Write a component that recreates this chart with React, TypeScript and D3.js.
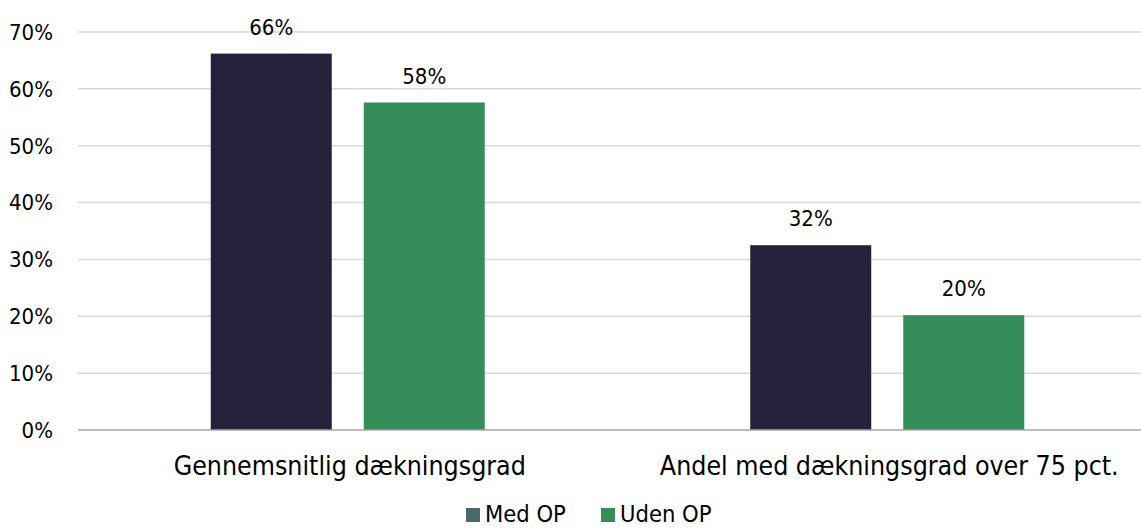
import React from "react";
import * as d3 from "d3";

const categories = ["Gennemsnitlig dækningsgrad", "Andel med dækningsgrad over 75 pct."];
const seriesNames = ["Med OP", "Uden OP"];
const medOP = [66.2, 32.5];
const udenOP = [57.6, 20.2];
const valueLabels = [["66%", "32%"], ["58%", "20%"]];
const yTicks = [0, 10, 20, 30, 40, 50, 60, 70];

const W = 1141, H = 528;
const m = { left: 78, right: -16, top: 32, bottom: 98 };
const barColors = ["#23223a", "#358d5a"];
const legendColors = ["#4a6a6a", "#358d5a"];
const font = "'DejaVu Sans Condensed', 'DejaVu Sans', sans-serif";

export default function App() {
  const x = d3.scaleBand<string>().domain(categories).range([m.left, W - m.right]);
  const y = d3.scaleLinear().domain([0, 70]).range([H - m.bottom, m.top]);
  const barW = 121, gap = 32;
  const series = [medOP, udenOP];
  return (
    <svg width={W} height={H} style={{ position: "absolute", left: 0, top: 0 }}>
      <rect width={W} height={H} fill="#fff" />
      {yTicks.map((t) => (
        <g key={t}>
          {t > 0 && <line x1={m.left} x2={W} y1={y(t)} y2={y(t)} stroke="#d9d9d9" strokeWidth={1.5} />}
          <text x={53} y={y(t)} dy="0.36em" textAnchor="end" fontFamily={font} fontSize={22} fill="#000">{t}%</text>
        </g>
      ))}
      {categories.map((c, ci) => {
        const cx = (x(c) as number) + x.bandwidth() / 2;
        return (
          <g key={c}>
            {series.map((s, si) => {
              const bx = cx - gap / 2 - barW + si * (barW + gap);
              return (
                <g key={si}>
                  <rect x={bx} y={y(s[ci])} width={barW} height={y(0) - y(s[ci])} fill={barColors[si]} />
                  <text x={bx + barW / 2} y={y(s[ci]) - 19} textAnchor="middle" fontFamily={font} fontSize={22} fill="#000">{valueLabels[si][ci]}</text>
                </g>
              );
            })}
            <text x={cx + 2} y={y(0) + 45} textAnchor="middle" fontFamily={font} fontSize={26.5} fill="#000">{c}</text>
          </g>
        );
      })}
      <line x1={m.left} x2={W} y1={y(0)} y2={y(0)} stroke="#a6a6a6" strokeWidth={1.5} />
      {seriesNames.map((n, i) => {
        const lx = [466, 601][i];
        return (
          <g key={n}>
            <rect x={lx} y={508} width={14} height={14} fill={legendColors[i]} />
            <text x={lx + 19} y={522} fontFamily={font} fontSize={23.5} fill="#000">{n}</text>
          </g>
        );
      })}
    </svg>
  );
}
